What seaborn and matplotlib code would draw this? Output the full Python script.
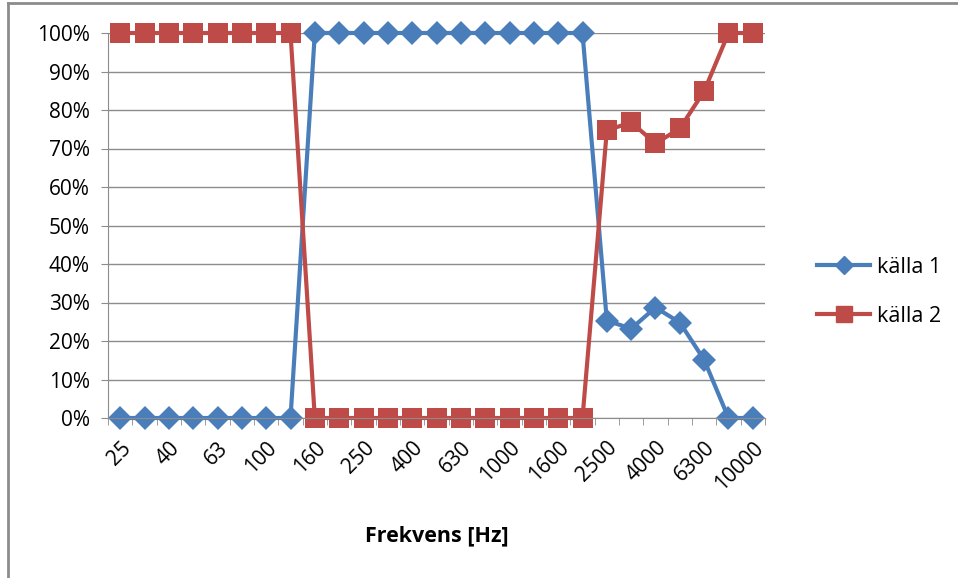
import matplotlib.pyplot as plt
import matplotlib.lines as mlines
import pandas as pd
import seaborn as sns
from matplotlib.ticker import PercentFormatter, FixedLocator

freqs = ['25', '31.5', '40', '50', '63', '80', '100', '125', '160', '200', '250', '315', '400',
         '500', '630', '800', '1000', '1250', '1600', '2000', '2500', '3150', '4000', '5000',
         '6300', '8000', '10000']
kalla1 = [0, 0, 0, 0, 0, 0, 0, 0, 100, 100, 100, 100, 100, 100, 100, 100, 100, 100, 100, 100,
          25.3, 23.2, 28.7, 24.8, 15.1, 0, 0]
kalla2 = [100, 100, 100, 100, 100, 100, 100, 100, 0, 0, 0, 0, 0, 0, 0, 0, 0, 0, 0, 0,
          74.7, 76.8, 71.3, 75.2, 84.9, 100, 100]
series_names = ['källa 1', 'källa 2']

df = pd.concat([
    pd.DataFrame({'freq': freqs, 'andel': kalla1, 'serie': series_names[0]}),
    pd.DataFrame({'freq': freqs, 'andel': kalla2, 'serie': series_names[1]}),
])

plt.rcParams['font.family'] = ['Open Sans', 'DejaVu Sans']

fig = plt.figure(figsize=(9.58, 5.78), dpi=100)
ax = fig.add_axes([108 / 958, 1 - 418 / 578, (765 - 108) / 958, (418 - 33) / 578])

sns.lineplot(data=df, x='freq', y='andel', hue='serie', style='serie', ax=ax, sort=False,
             palette=['#4A7EBB', '#BE4B48'], markers={'källa 1': 'D', 'källa 2': 's'},
             dashes=False, linewidth=3, markersize=14, markeredgewidth=0, legend=False)
for ln in ax.lines:
    ln.set_clip_on(False)
# diamond a bit smaller than the square
ax.lines[0].set_markersize(12.5)

ax.set_ylim(0, 100)
ax.set_xlim(-0.5, len(freqs) - 0.5)
ax.yaxis.set_major_locator(FixedLocator(range(0, 101, 10)))
ax.yaxis.set_major_formatter(PercentFormatter(decimals=0))
ax.grid(axis='y', color='#8c8c8c', linewidth=1)
ax.set_axisbelow(True)

ax.set_xticks(range(0, len(freqs), 2))
ax.set_xticklabels(freqs[::2], rotation=45, ha='right', rotation_mode='anchor')
ax.xaxis.set_minor_locator(FixedLocator([i - 0.5 for i in range(len(freqs) + 1)]))
ax.tick_params(axis='x', which='major', length=0, pad=14, labelsize=15)
ax.tick_params(axis='x', which='minor', length=5, color='#8c8c8c')
ax.tick_params(axis='y', length=5, color='#8c8c8c', labelsize=15, pad=8)

for side in ['top', 'right']:
    ax.spines[side].set_visible(False)
ax.spines['left'].set_color('#8c8c8c')
ax.spines['bottom'].set_color('#8c8c8c')

ax.set_ylabel('')
ax.set_xlabel('Frekvens [Hz]', fontsize=15.5, fontweight='bold', labelpad=22)

handles = [
    mlines.Line2D([], [], color='#4A7EBB', marker='D', markersize=9, linewidth=3, label=series_names[0]),
    mlines.Line2D([], [], color='#BE4B48', marker='s', markersize=11, linewidth=3, label=series_names[1]),
]
fig.legend(handles=handles, loc='center left', bbox_to_anchor=(808 / 958, 1 - 292 / 578),
           frameon=False, fontsize=15.5, handlelength=2.5, handletextpad=0.3, labelspacing=1.3,
           borderaxespad=0)

# outer chart border (top and left edges visible in reference)
fig.add_artist(mlines.Line2D([8 / 958, 1], [1 - 3 / 578, 1 - 3 / 578], color='#8c8c8c', linewidth=2,
                             transform=fig.transFigure))
fig.add_artist(mlines.Line2D([8 / 958, 8 / 958], [0, 1 - 3 / 578], color='#8c8c8c', linewidth=2,
                             transform=fig.transFigure))

fig.savefig('out.png', dpi=100)
